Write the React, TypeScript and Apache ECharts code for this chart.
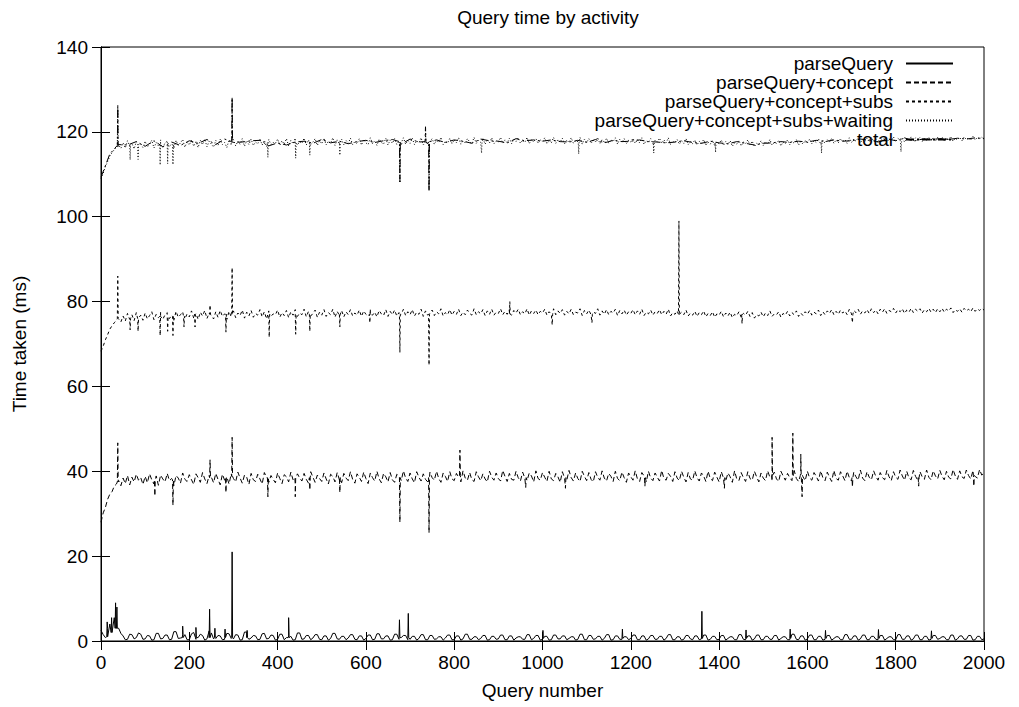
import React, { useEffect, useRef } from "react";
import * as echarts from "echarts";

// Base arrays hold one reading every STEP queries (total: every TOTAL_STEP).
const STEP = 5;
const TOTAL_STEP = 20;

const xTicks = [0, 200, 400, 600, 800, 1000, 1200, 1400, 1600, 1800, 2000];
const yTicks = [0, 20, 40, 60, 80, 100, 120, 140];

const seriesNames = [
  "parseQuery",
  "parseQuery+concept",
  "parseQuery+concept+subs",
  "parseQuery+concept+subs+waiting",
  "total",
];

// parseQuery (ms)
const parseQueryBase = [
  2.5, 1.5, 0.8, 3.0, 4.0, 2.0, 5.5, 3.5, 3.0, 1.8,
  1.2, 0.3, 0.4, 1.6, 1.5, 0.5, 0.8, 1.9, 1.6, 0.4,
  0.5, 1.3, 1.2, 0.2, 0.3, 1.8, 1.8, 0.5, 0.6, 1.4,
  1.4, 0.3, 0.4, 2.2, 2.2, 0.6, 0.7, 1.5, 1.5, 0.3,
  0.3, 1.7, 2.0, 0.4, 0.8, 1.6, 1.3, 0.2, 0.5, 2.4,
  1.9, 0.5, 0.6, 1.3, 1.2, 0.3, 0.4, 1.8, 1.7, 0.6,
  0.5, 1.5, 1.4, 0.2, 0.3, 2.1, 2.1, 0.4, 0.7, 1.3,
  1.2, 0.3, 0.4, 1.7, 1.8, 0.5, 0.6, 1.4, 1.3, 0.2,
  0.4, 1.6, 1.6, 0.3, 0.8, 1.2, 1.1, 0.2, 0.3, 1.9,
  1.9, 0.4, 0.5, 1.3, 1.3, 0.3, 0.7, 1.5, 1.5, 0.4,
  0.3, 1.2, 1.2, 0.2, 0.6, 1.8, 1.8, 0.5, 0.4, 1.1,
  1.1, 0.3, 0.7, 1.5, 1.5, 0.4, 0.3, 1.2, 1.2, 0.2,
  0.6, 1.4, 1.4, 0.3, 0.4, 1.7, 1.7, 0.5, 0.5, 1.2,
  1.2, 0.2, 0.3, 1.6, 1.6, 0.4, 0.8, 1.3, 1.3, 0.3,
  0.4, 1.1, 1.1, 0.2, 0.6, 1.5, 1.5, 0.3, 0.3, 1.3,
  1.3, 0.4, 0.5, 1.0, 1.0, 0.2, 0.7, 1.4, 1.4, 0.3,
  0.3, 1.2, 1.2, 0.2, 0.5, 1.6, 1.6, 0.4, 0.4, 1.0,
  1.0, 0.3, 0.6, 1.3, 1.3, 0.2, 0.3, 1.1, 1.1, 0.4,
  0.5, 1.4, 1.4, 0.3, 0.3, 1.2, 1.2, 0.2, 0.7, 1.0,
  1.0, 0.4, 0.4, 1.5, 1.5, 0.3, 0.6, 1.3, 1.3, 0.2,
  0.4, 1.1, 1.1, 0.2, 0.3, 1.4, 1.4, 0.5, 0.5, 1.2,
  1.2, 0.3, 0.6, 1.0, 1.0, 0.2, 0.4, 1.6, 1.6, 0.3,
  0.3, 1.3, 1.3, 0.4, 0.5, 1.1, 1.1, 0.2, 0.6, 1.5,
  1.5, 0.2, 0.3, 1.2, 1.2, 0.4, 0.4, 1.0, 1.0, 0.3,
  0.6, 1.4, 1.4, 0.3, 0.3, 1.2, 1.2, 0.2, 0.5, 1.3,
  1.3, 0.4, 0.4, 1.1, 1.1, 0.2, 0.6, 1.5, 1.5, 0.3,
  0.3, 1.0, 1.0, 0.2, 0.4, 1.3, 1.3, 0.5, 0.3, 1.2,
  1.2, 0.3, 0.5, 1.4, 1.4, 0.2, 0.4, 1.1, 1.1, 0.3,
  0.4, 1.3, 1.3, 0.2, 0.6, 1.0, 1.0, 0.3, 0.3, 1.5,
  1.5, 0.4, 0.3, 1.2, 1.2, 0.2, 0.5, 1.4, 1.4, 0.3,
  0.3, 1.1, 1.1, 0.4, 0.4, 1.3, 1.3, 0.2, 0.6, 1.0,
  1.0, 0.3, 0.3, 1.6, 1.6, 0.4, 0.3, 1.2, 1.2, 0.2,
  0.5, 1.4, 1.4, 0.3, 0.3, 1.1, 1.1, 0.2, 0.4, 1.3,
  1.3, 0.2, 0.6, 1.0, 1.0, 0.3, 0.3, 1.5, 1.5, 0.4,
  0.4, 1.2, 1.2, 0.2, 0.5, 1.4, 1.4, 0.3, 0.3, 1.1,
  1.1, 0.4, 0.3, 1.3, 1.3, 0.2, 0.6, 1.0, 1.0, 0.3,
  0.3, 1.5, 1.5, 0.4, 0.4, 1.2, 1.2, 0.2, 0.5, 1.4,
  1.4, 0.3, 0.3, 1.1, 1.1, 0.2, 0.4, 1.3, 1.3, 0.4,
  0.6, 1.0, 1.0, 0.3, 0.3, 1.4, 1.4, 0.2, 0.5, 1.2,
  1.2, 0.4, 0.4, 1.3, 1.3, 0.2, 0.3, 1.1, 1.1, 0.3,
  0.5,
];
// [query, surrounding level, peak]
const parseQuerySpikes = [
  [14, 1, 4.5], [24, 2, 5.5], [33, 3, 9], [36, 3, 8], [185, 0.8, 3.5],
  [215, 0.8, 3.2], [246, 0.8, 7.5], [258, 0.8, 3], [281, 0.8, 2.8],
  [297, 0.8, 21], [331, 0.8, 2.5], [425, 0.8, 5.5], [676, 0.8, 5],
  [696, 0.8, 6.5], [1001, 0.6, 2.5], [1181, 0.6, 2.8], [1361, 0.6, 7],
  [1461, 0.6, 2.6], [1561, 0.6, 2.8], [1641, 0.6, 2.5], [1761, 0.6, 2.7],
  [1881, 0.6, 2.4],
];

// parseQuery+concept
const conceptBase = [
  28.0, 30.2, 31.5, 33.4, 34.6, 35.2, 36.5, 37.0, 37.8, 36.6,
  38.4, 37.1, 39.0, 36.8, 38.6, 37.5, 39.3, 37.9, 38.5, 36.9,
  38.8, 37.3, 39.4, 38.0, 37.0, 38.9, 36.7, 39.1, 38.2, 37.5,
  39.5, 37.8, 38.3, 36.6, 39.0, 38.4, 37.2, 39.6, 38.1, 37.6,
  39.2, 38.0, 36.9, 39.4, 38.5, 37.4, 39.7, 38.2, 37.1, 39.0,
  38.6, 37.3, 39.5, 38.1, 36.8, 39.3, 37.9, 38.7, 37.0, 39.4,
  38.3, 37.5, 39.8, 38.4, 37.2, 39.1, 38.6, 36.9, 39.5, 38.0,
  37.6, 39.3, 38.2, 37.0, 39.7, 38.5, 37.4, 39.0, 38.1, 37.3,
  39.6, 38.3, 37.1, 39.2, 38.7, 37.5, 39.8, 38.0, 36.8, 39.4,
  38.4, 37.7, 39.5, 38.1, 37.2, 39.9, 38.6, 37.4, 39.1, 38.3,
  37.6, 39.6, 38.2, 37.0, 39.3, 38.8, 37.5, 39.7, 38.0, 37.3,
  39.5, 38.4, 37.8, 39.9, 38.1, 37.2, 39.4, 38.6, 37.6, 39.8,
  38.3, 37.1, 39.6, 38.5, 37.7, 40.0, 38.2, 37.3, 39.5, 38.7,
  37.5, 39.7, 38.0, 37.4, 39.3, 38.9, 37.8, 40.1, 38.4, 37.6,
  39.6, 38.2, 37.3, 39.9, 38.6, 37.7, 39.4, 38.1, 37.5, 39.8,
  38.5, 37.9, 40.0, 38.3, 37.4, 39.6, 38.8, 37.6, 39.9, 38.2,
  37.8, 39.5, 38.6, 37.5, 40.1, 38.4, 37.9, 39.7, 38.0, 37.6,
  39.9, 38.7, 37.8, 39.4, 38.2, 37.5, 40.0, 38.6, 37.9, 39.6,
  38.3, 37.7, 40.2, 38.8, 37.6, 39.5, 38.1, 37.9, 40.0, 38.5,
  37.7, 39.8, 38.4, 37.8, 39.6, 38.9, 37.5, 40.1, 38.3, 37.9,
  39.7, 38.6, 37.6, 40.0, 38.2, 37.8, 39.5, 38.7, 37.4, 39.9,
  38.4, 37.9, 40.2, 38.5, 37.7, 39.6, 38.3, 37.6, 40.0, 38.8,
  37.8, 39.7, 38.1, 37.5, 39.9, 38.6, 37.9, 40.1, 38.4, 37.7,
  39.5, 38.8, 37.6, 40.0, 38.3, 37.8, 39.8, 38.5, 37.4, 39.6,
  38.7, 37.9, 40.1, 38.2, 37.6, 39.7, 38.9, 37.5, 40.0, 38.4,
  37.8, 39.6, 38.6, 37.7, 40.2, 38.3, 37.9, 39.5, 38.8, 37.6,
  39.9, 38.4, 37.8, 40.0, 38.6, 37.5, 39.7, 38.2, 37.9, 40.1,
  38.5, 37.7, 39.6, 38.9, 37.6, 40.0, 38.3, 37.8, 39.8, 38.6,
  37.5, 39.9, 38.4, 37.7, 39.6, 38.7, 37.4, 40.1, 38.2, 37.8,
  39.7, 38.5, 37.6, 39.9, 38.3, 37.9, 40.0, 38.7, 37.5, 39.6,
  38.4, 37.8, 40.1, 38.6, 37.7, 39.8, 38.2, 37.6, 40.0, 38.9,
  37.9, 39.5, 38.5, 37.8, 40.2, 38.3, 37.6, 39.9, 38.7, 37.8,
  40.0, 38.4, 37.9, 39.7, 38.8, 37.7, 40.1, 38.5, 37.8, 39.8,
  38.6, 37.6, 40.2, 38.3, 37.9, 39.9, 38.9, 37.8, 40.0, 38.5,
  37.7, 39.8, 38.7, 37.9, 40.3, 38.4, 37.8, 39.9, 38.6, 38.0,
  40.1, 38.8, 37.9, 39.7, 38.5, 38.0, 40.2, 38.7, 37.8, 39.9,
  38.6, 38.1, 40.3, 38.9, 37.9, 40.0, 38.4, 38.0, 40.2, 38.8,
  37.9, 39.9, 38.7, 38.1, 40.3, 38.6, 38.0, 40.1, 38.9, 38.2,
  40.2, 38.8, 38.0, 40.0, 38.6, 38.2, 40.4, 38.9, 38.1, 40.1,
  38.7, 38.3, 40.3, 39.0, 38.2, 40.2, 38.8, 38.4, 40.4, 39.1,
  39.6,
];
const conceptSpikes = [
  [38, 37.5, 46.7], [122, 38, 34.2], [163, 38, 32], [247, 38.5, 42.7],
  [283, 38.5, 35], [297, 38.8, 48], [378, 38.5, 34], [440, 38.5, 34],
  [473, 38.5, 35.6], [541, 38.5, 35], [677, 38.5, 28], [743, 38.5, 25.5],
  [813, 39, 45], [962, 38.5, 36.2], [1052, 38.5, 36], [1232, 38.5, 36.5],
  [1412, 38.5, 36], [1520, 39, 48], [1567, 39, 49], [1585, 39, 44],
  [1588, 39, 34], [1702, 38.5, 36.3], [1852, 38.5, 36.5], [1977, 39, 36.5],
];

// parseQuery+concept+subs
const subsBase = [
  68.3, 69.5, 71.0, 72.2, 73.5, 74.3, 75.0, 75.6, 76.0, 75.2,
  76.6, 75.4, 77.2, 75.8, 76.9, 75.5, 77.4, 76.1, 76.8, 75.6,
  77.3, 75.9, 76.7, 77.6, 75.7, 77.0, 76.2, 77.5, 75.8, 76.9,
  77.4, 76.0, 76.8, 75.6, 77.7, 76.3, 76.9, 77.6, 75.9, 77.1,
  76.4, 77.8, 76.1, 77.2, 75.8, 77.5, 76.6, 77.9, 76.0, 77.3,
  76.7, 75.9, 77.6, 76.3, 77.9, 76.5, 77.1, 75.8, 77.7, 76.4,
  77.8, 76.2, 77.3, 76.7, 78.0, 76.1, 77.5, 76.6, 77.9, 76.3,
  77.2, 76.8, 78.1, 76.4, 77.6, 75.9, 77.8, 76.5, 77.1, 76.9,
  78.0, 76.3, 77.4, 76.7, 77.9, 76.2, 77.6, 76.8, 78.1, 76.5,
  77.3, 76.9, 78.2, 76.4, 77.7, 76.6, 77.2, 78.0, 76.3, 77.5,
  76.8, 78.1, 76.5, 77.4, 76.9, 78.2, 76.3, 77.7, 76.7, 77.9,
  76.4, 77.6, 76.9, 78.1, 76.6, 77.3, 76.8, 78.0, 76.5, 77.8,
  77.0, 76.6, 78.2, 76.8, 77.5, 76.4, 77.9, 77.1, 76.7, 78.1,
  76.5, 77.7, 76.9, 78.0, 76.6, 77.4, 77.0, 78.2, 76.7, 77.6,
  76.9, 78.1, 76.6, 77.5, 77.0, 78.2, 76.5, 77.8, 76.8, 77.3,
  78.0, 76.7, 77.6, 77.1, 78.3, 76.6, 77.4, 76.9, 78.1, 76.8,
  77.7, 77.0, 78.2, 76.7, 77.5, 76.9, 78.0, 77.2, 76.8, 78.3,
  76.9, 77.6, 77.1, 78.1, 76.7, 77.8, 77.0, 78.2, 76.8, 77.5,
  77.2, 78.3, 76.9, 77.7, 77.0, 78.1, 76.8, 77.9, 77.3, 78.2,
  76.9, 77.6, 77.1, 78.3, 76.8, 77.8, 77.2, 78.0, 76.9, 77.7,
  77.3, 78.2, 76.8, 77.6, 77.0, 78.3, 76.9, 77.8, 77.2, 78.1,
  76.8, 77.7, 77.1, 78.2, 76.9, 77.5, 77.3, 78.3, 76.7, 77.9,
  77.1, 78.0, 76.9, 77.6, 77.2, 78.3, 76.8, 77.8, 77.0, 78.1,
  76.9, 77.7, 77.3, 78.2, 76.7, 77.9, 77.1, 78.0, 76.8, 77.6,
  77.2, 78.1, 76.9, 77.8, 77.0, 78.2, 76.7, 77.5, 77.1, 78.0,
  76.8, 77.6, 77.2, 78.1, 76.9, 77.7, 77.0, 78.2, 76.6, 77.4,
  77.0, 77.8, 76.7, 77.5, 76.9, 78.0, 76.6, 77.3, 76.8, 77.7,
  76.5, 77.4, 76.9, 77.8, 76.4, 77.2, 76.7, 77.6, 76.3, 77.1,
  76.8, 77.7, 76.4, 77.3, 76.6, 77.5, 76.2, 77.0, 76.7, 77.6,
  76.3, 77.2, 76.8, 77.7, 76.5, 77.4, 76.1, 76.9, 76.6, 77.5,
  76.4, 77.3, 76.7, 77.8, 76.5, 77.1, 76.9, 77.6, 76.3, 77.2,
  76.8, 77.7, 76.6, 77.4, 76.9, 77.8, 76.5, 77.3, 76.7, 77.6,
  77.0, 77.9, 76.8, 77.5, 77.1, 78.0, 76.7, 77.6, 76.9, 77.8,
  77.2, 78.1, 76.9, 77.7, 77.0, 78.0, 77.3, 77.8, 76.9, 78.2,
  77.1, 77.9, 77.4, 78.2, 77.0, 77.8, 77.3, 78.1, 77.2, 78.3,
  77.4, 78.0, 77.1, 78.2, 77.5, 78.3, 77.2, 77.9, 77.6, 78.4,
  77.3, 78.1, 77.6, 78.3, 77.2, 78.0, 77.5, 78.4, 77.4, 78.2,
  77.7, 78.3, 77.3, 78.1, 77.6, 78.4, 77.5, 78.2, 77.4, 78.3,
  77.6, 78.4, 77.5, 78.2, 77.8, 78.5, 77.4, 78.1, 77.7, 78.3,
  77.5, 78.4, 77.8, 78.2, 77.6, 78.5, 77.7, 78.3, 77.9, 78.4,
  78.0,
];
const subsSpikes = [
  [38, 76, 86], [66, 76, 73.3], [84, 76, 73], [134, 76.5, 72],
  [151, 76.5, 73], [163, 76.5, 72], [188, 76.5, 74], [213, 77, 74],
  [247, 77, 79.2], [283, 77, 72.8], [297, 77, 88], [381, 77, 71.6],
  [441, 77, 72.3], [473, 77, 73], [541, 77, 74], [609, 77, 75],
  [677, 77, 68], [743, 77, 65], [926, 77, 80], [1022, 77, 74.5],
  [1112, 77, 75], [1309, 77, 99], [1452, 77, 74.8], [1702, 77, 75],
];

// parseQuery+concept+subs+waiting
const waitingBase = [
  109.0, 110.2, 111.8, 113.0, 114.3, 115.1, 115.8, 116.4, 116.9, 116.1,
  117.4, 116.2, 117.9, 116.6, 117.3, 116.0, 117.7, 116.5, 117.2, 116.3,
  117.8, 116.4, 117.1, 118.0, 116.2, 117.5, 116.7, 118.1, 116.3, 117.4,
  117.9, 116.5, 117.2, 116.1, 118.0, 116.8, 117.4, 118.2, 116.4, 117.6,
  116.9, 118.1, 116.6, 117.7, 116.3, 118.0, 117.0, 118.3, 116.5, 117.8,
  117.1, 116.4, 118.0, 116.8, 118.3, 117.0, 117.5, 116.3, 118.1, 116.9,
  118.2, 116.7, 117.8, 117.1, 118.4, 116.6, 117.9, 117.0, 118.3, 116.8,
  117.6, 117.2, 118.4, 116.9, 118.0, 116.5, 118.2, 117.0, 117.5, 117.3,
  118.3, 116.8, 117.9, 117.1, 118.4, 116.7, 118.0, 117.2, 118.5, 116.9,
  117.7, 117.3, 118.5, 116.9, 118.1, 117.0, 117.6, 118.4, 116.8, 117.9,
  117.2, 118.5, 116.9, 117.8, 117.3, 118.6, 116.8, 118.1, 117.1, 118.3,
  116.9, 118.0, 117.3, 118.5, 117.0, 117.7, 117.2, 118.4, 116.9, 118.2,
  117.4, 117.0, 118.6, 117.2, 117.9, 116.8, 118.3, 117.5, 117.1, 118.5,
  116.9, 118.1, 117.3, 118.4, 117.0, 117.8, 117.4, 118.6, 117.1, 118.0,
  117.3, 118.5, 117.0, 117.9, 117.4, 118.6, 116.9, 118.2, 117.2, 117.7,
  118.4, 117.1, 118.0, 117.5, 118.7, 117.0, 117.8, 117.3, 118.5, 117.2,
  118.1, 117.4, 118.6, 117.1, 117.9, 117.3, 118.4, 117.6, 117.2, 118.7,
  117.3, 118.0, 117.5, 118.5, 117.1, 118.2, 117.4, 118.6, 117.2, 117.9,
  117.6, 118.7, 117.3, 118.1, 117.4, 118.5, 117.2, 118.3, 117.7, 118.6,
  117.3, 118.0, 117.5, 118.7, 117.2, 118.2, 117.6, 118.4, 117.3, 118.1,
  117.7, 118.6, 117.2, 118.0, 117.4, 118.7, 117.3, 118.2, 117.6, 118.5,
  117.2, 118.1, 117.5, 118.6, 117.3, 117.9, 117.7, 118.7, 117.1, 118.3,
  117.5, 118.4, 117.3, 118.0, 117.6, 118.7, 117.2, 118.2, 117.4, 118.5,
  117.3, 118.1, 117.7, 118.6, 117.1, 118.3, 117.5, 118.4, 117.2, 118.0,
  117.6, 118.5, 117.3, 118.2, 117.4, 118.6, 117.1, 117.9, 117.5, 118.4,
  117.2, 118.0, 117.6, 118.5, 117.3, 118.1, 117.4, 118.6, 117.0, 117.8,
  117.4, 118.2, 117.1, 117.9, 117.3, 118.4, 117.0, 117.7, 117.2, 118.1,
  116.9, 117.8, 117.3, 118.2, 116.8, 117.6, 117.1, 118.0, 116.7, 117.5,
  117.2, 118.1, 116.8, 117.7, 117.0, 117.9, 116.6, 117.4, 117.1, 118.0,
  116.7, 117.6, 117.2, 118.1, 116.9, 117.8, 116.5, 117.3, 117.0, 117.9,
  116.8, 117.7, 117.1, 118.2, 116.9, 117.5, 117.3, 118.0, 116.7, 117.6,
  117.2, 118.1, 117.0, 117.8, 117.3, 118.2, 116.9, 117.7, 117.1, 118.0,
  117.4, 118.3, 117.2, 117.9, 117.5, 118.4, 117.1, 118.0, 117.3, 118.2,
  117.6, 118.5, 117.3, 118.1, 117.4, 118.4, 117.7, 118.2, 117.3, 118.6,
  117.5, 118.3, 117.8, 118.6, 117.4, 118.2, 117.7, 118.5, 117.6, 118.7,
  117.8, 118.4, 117.5, 118.6, 117.9, 118.7, 117.6, 118.3, 118.0, 118.8,
  117.7, 118.5, 118.0, 118.7, 117.6, 118.4, 117.9, 118.8, 117.8, 118.6,
  118.1, 118.7, 117.7, 118.5, 118.0, 118.8, 117.9, 118.6, 117.8, 118.7,
  118.0, 118.8, 117.9, 118.6, 118.2, 118.9, 117.8, 118.5, 118.1, 118.7,
  117.9, 118.8, 118.2, 118.6, 118.0, 118.9, 118.1, 118.7, 118.3, 118.8,
  118.4,
];
const waitingSpikes = [
  [38, 116.5, 126], [66, 117, 113.4], [84, 117, 113.5], [134, 117, 112.2],
  [151, 117, 112.5], [163, 117, 112.3], [297, 117.5, 128], [378, 117.5, 114],
  [441, 117.5, 113.8], [473, 117.5, 114.5], [541, 117.5, 114.5],
  [677, 117.5, 108], [735, 117.5, 121], [743, 117.5, 106], [862, 117.5, 115],
  [1082, 117.5, 114.8], [1252, 117.5, 115], [1392, 117.5, 115.2],
  [1632, 117.5, 115], [1812, 117.5, 115.3],
];

// total
const totalBase = [
  109.3, 114.8, 117.0, 116.9, 117.7, 116.6, 117.9, 116.5, 117.6, 116.8,
  117.9, 117.3, 118.2, 117.0, 118.3, 117.5, 117.6, 117.9, 118.0, 116.7,
  117.4, 116.9, 117.6, 117.8, 117.3, 118.2, 117.4, 117.8, 117.2, 117.7,
  118.0, 117.5, 117.9, 118.2, 117.1, 118.3, 117.6, 117.2, 118.1, 117.5,
  118.1, 117.8, 117.3, 118.3, 117.9, 117.8, 117.4, 118.4, 117.9, 118.1,
  117.8, 118.1, 117.7, 117.6, 118.0, 117.5, 118.2, 117.4, 118.0, 117.7,
  117.8, 118.1, 117.7, 117.6, 117.4, 117.6, 117.9, 117.5, 117.3, 117.8,
  117.4, 117.2, 117.7, 117.3, 116.9, 117.3, 117.4, 117.7, 117.5, 117.8,
  117.6, 118.0, 117.7, 118.1, 117.8, 117.9, 118.3, 118.1, 117.6, 118.4,
  117.9, 118.6, 117.8, 118.3, 118.2, 118.4, 118.2, 118.5, 118.3, 118.6,
  118.4,
];
const totalSpikes = [
  [38, 116.8, 126.2], [297, 117.7, 128.1], [677, 117.7, 108.2],
  [735, 117.7, 121.2], [743, 117.7, 106.1],
];

function buildPoints(base: number[], step: number, spikes: number[][]) {
  const pts: number[][] = base.map((v, i) => [i * step, v]);
  spikes.forEach(([q, lvl, pk]) => {
    pts.push([q - 1, lvl], [q, pk], [q + 1, lvl]);
  });
  pts.sort((a, b) => a[0] - b[0]);
  return pts;
}

const FONT = "'Liberation Sans', Arial, Helvetica, sans-serif";

export default function App() {
  const ref = useRef<HTMLDivElement>(null);
  useEffect(() => {
    if (!ref.current) return;
    const chart = echarts.init(ref.current, undefined, { renderer: "svg" });
    const dashes: any[] = ["solid", [5, 3], [3, 3], [1, 2], [8, 3, 2, 3]];
    const datasets = [
      buildPoints(parseQueryBase, STEP, parseQuerySpikes),
      buildPoints(conceptBase, STEP, conceptSpikes),
      buildPoints(subsBase, STEP, subsSpikes),
      buildPoints(waitingBase, STEP, waitingSpikes),
      buildPoints(totalBase, TOTAL_STEP, totalSpikes),
    ];
    const axisCommon = {
      axisLine: { show: true, lineStyle: { color: "#000", width: 1 } },
      axisTick: { show: true, inside: true, length: 9, lineStyle: { color: "#000" } },
      splitLine: { show: false },
    };
    chart.setOption({
      animation: false,
      backgroundColor: "#fff",
      textStyle: { fontFamily: FONT, color: "#000" },
      title: {
        text: "Query time by activity",
        left: 543,
        top: 3,
        textAlign: "center",
        textStyle: { fontFamily: FONT, fontSize: 19, fontWeight: "normal", color: "#000" },
      },
      legend: {
        orient: "vertical",
        right: 65,
        top: 54,
        padding: 0,
        align: "right",
        itemWidth: 47,
        itemHeight: 10,
        itemGap: 0,
        selectedMode: false,
        data: seriesNames,
        itemStyle: { opacity: 0, color: "transparent", borderWidth: 0 },
        textStyle: { fontFamily: FONT, fontSize: 19, color: "#000", lineHeight: 17, padding: [0, 8, 0, 0] },
      },
      grid: { left: 101, right: 35, top: 47, bottom: 66, show: true, borderColor: "#000", borderWidth: 1 },
      xAxis: [
        {
          type: "value",
          min: xTicks[0],
          max: xTicks[xTicks.length - 1],
          interval: xTicks[1] - xTicks[0],
          name: "Query number",
          nameLocation: "middle",
          nameGap: 40,
          nameTextStyle: { fontFamily: FONT, fontSize: 19, color: "#000" },
          axisLabel: { fontFamily: FONT, fontSize: 19, color: "#000", margin: 12, formatter: (v: number) => String(v) },
          ...axisCommon,
        },
        {
          type: "value",
          position: "top",
          min: xTicks[0],
          max: xTicks[xTicks.length - 1],
          interval: xTicks[1] - xTicks[0],
          axisLabel: { show: false },
          ...axisCommon,
        },
      ],
      yAxis: [
        {
          type: "value",
          min: yTicks[0],
          max: yTicks[yTicks.length - 1],
          interval: yTicks[1] - yTicks[0],
          name: "Time taken (ms)",
          nameLocation: "middle",
          nameGap: 72,
          nameTextStyle: { fontFamily: FONT, fontSize: 19, color: "#000" },
          axisLabel: { fontFamily: FONT, fontSize: 19, color: "#000", margin: 13, formatter: (v: number) => String(v) },
          ...axisCommon,
        },
        {
          type: "value",
          position: "right",
          min: yTicks[0],
          max: yTicks[yTicks.length - 1],
          interval: yTicks[1] - yTicks[0],
          axisLabel: { show: false },
          ...axisCommon,
        },
      ],
      series: seriesNames.map((name, i) => ({
        name,
        type: "line",
        xAxisIndex: 0,
        yAxisIndex: 0,
        data: datasets[i],
        showSymbol: false,
        symbol: "none",
        color: "#000",
        lineStyle: { color: "#000", width: 1, type: dashes[i] },
        z: 2 + (4 - i),
      })),
    });
    return () => chart.dispose();
  }, []);
  return (
    <div
      ref={ref}
      style={{ position: "fixed", left: 0, top: 0, width: 1019, height: 707, background: "#fff" }}
    />
  );
}
